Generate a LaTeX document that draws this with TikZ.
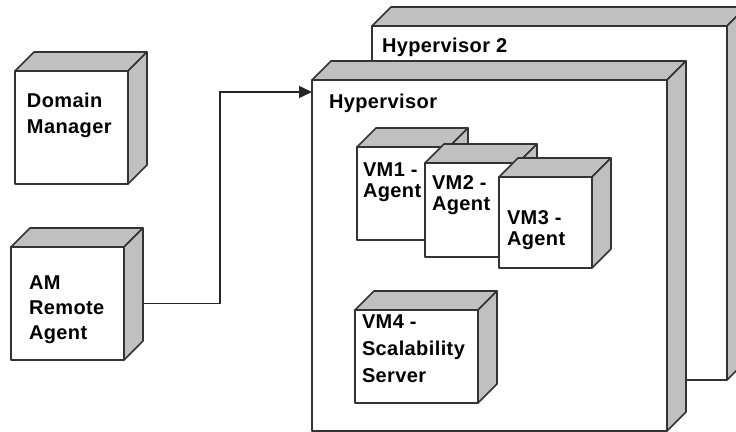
\documentclass[tikz,border=0pt]{standalone}
\usepackage{fontspec}
\setmainfont[LetterSpace=2]{Liberation Sans}
\usetikzlibrary{arrows.meta}

\definecolor{edgegray}{HTML}{333333}
\definecolor{sidegray}{HTML}{C0C0C0}

\tikzset{
  face/.style={rectangle, draw=edgegray, fill=white, line width=1.6pt,
    inner sep=0pt, outer sep=0pt, line join=round},
  sideface/.style={draw=edgegray, fill=sidegray, line width=1.6pt, line join=round},
  lbl/.style={anchor=base west, inner sep=0pt, outer sep=0pt, text=black,
    font=\fontsize{20}{24}\selectfont\bfseries},
  conn/.style={draw=black!85, line width=1.4pt,
    -{Triangle[length=13pt,width=12pt]}},
}

% UML deployment node: front face (named node) plus shaded top and right faces
% #1 name, #2 left, #3 top, #4 right, #5 bottom, #6 depth
\newcommand\deploybox[6]{%
  \node[face, minimum width={(#4-#2)*1pt}, minimum height={(#5-#3)*1pt}]
    (#1) at ({(#2+#4)/2},{(#3+#5)/2}) {};
  \draw[sideface] (#1.north west) -- ([shift={(#6pt,#6pt)}]#1.north west)
    -- ([shift={(#6pt,#6pt)}]#1.north east) -- (#1.north east) -- cycle;
  \draw[sideface] (#1.north east) -- ([shift={(#6pt,#6pt)}]#1.north east)
    -- ([shift={(#6pt,#6pt)}]#1.south east) -- (#1.south east) -- cycle;
}

\begin{document}
\begin{tikzpicture}[x=1pt, y=-1pt]
  \useasboundingbox (0,0) rectangle (736,431);
  \clip (0,0) rectangle (736,431);

  % hypervisors
  \deploybox{hyptwo}{372}{26}{727}{380}{19}
  \node[lbl] (hyptwo-t) at (382,52) {Hypervisor 2};
  \deploybox{hyp}{312}{80}{667}{431}{19}
  \node[lbl] (hyp-t) at (329,108) {Hypervisor};

  % virtual machines
  \deploybox{vmone}{357}{147}{449}{240}{19}
  \node[lbl] (vmone-a) at (363,176) {VM1 -};
  \node[lbl] (vmone-b) at (363,197) {Agent};
  \deploybox{vmtwo}{425}{163}{518}{257}{19}
  \node[lbl] (vmtwo-a) at (432,189) {VM2 -};
  \node[lbl] (vmtwo-b) at (432,210) {Agent};
  \deploybox{vmthree}{499}{177}{592}{268}{19}
  \node[lbl] (vmthree-a) at (507,224) {VM3 -};
  \node[lbl] (vmthree-b) at (507,245) {Agent};
  \deploybox{vmfour}{355}{310}{478}{403}{19}
  \node[lbl] (vmfour-a) at (362,328) {VM4 -};
  \node[lbl] (vmfour-b) at (362,355) {Scalability};
  \node[lbl] (vmfour-c) at (362,382) {Server};

  % managers
  \deploybox{dm}{15}{71}{128}{184}{19}
  \node[lbl] (dm-a) at (27,107) {Domain};
  \node[lbl] (dm-b) at (27,133) {Manager};
  \deploybox{am}{11}{247}{124}{360}{19}
  \node[lbl] (am-a) at (29,289) {AM};
  \node[lbl] (am-b) at (29,314) {Remote};
  \node[lbl] (am-c) at (29,339) {Agent};

  % link from the remote agent to the hypervisor
  \draw[conn] ([xshift=19pt]am.east) -- ++(77pt,0pt)
    |- ([yshift=-12pt]hyp.north west);
\end{tikzpicture}
\end{document}
